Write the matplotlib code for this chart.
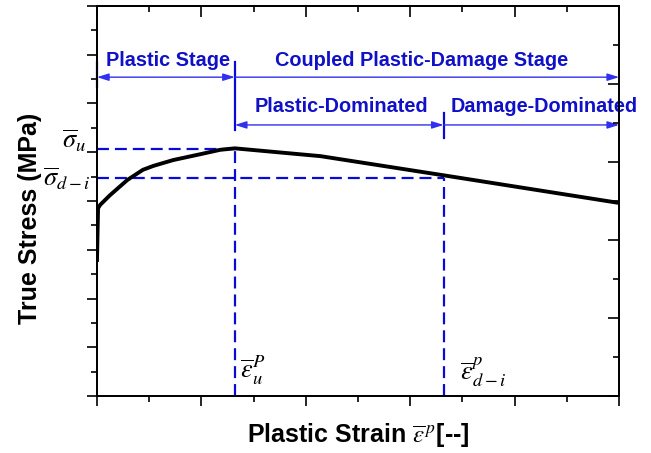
""" Schematic stress-strain curve with plastic and damage stages """
import matplotlib
matplotlib.use("Agg")
import matplotlib.pyplot as plt
from matplotlib.ticker import MultipleLocator, NullFormatter

# Curve (arbitrary units)
strain = [0.0, 0.01, 0.03, 0.125, 0.29, 0.44, 0.54, 0.73, 0.99, 1.18, 1.32, 2.14, 3.31, 5.0]
stress = [2.79, 3.85, 3.92, 4.12, 4.43, 4.64, 4.72, 4.84, 4.96, 5.05, 5.08, 4.92, 4.53, 3.96]

# Characteristic points
eps_u = 1.32
sig_u = 5.06
eps_di = 3.32
sig_di = 4.47

# Stage labels
stage_labels = ["Plastic Stage", "Coupled Plastic-Damage Stage"]
sub_labels = ["Plastic-Dominated", "Damage-Dominated"]

plt.rcParams["font.family"] = ["Liberation Sans", "DejaVu Sans"]
plt.rcParams["mathtext.fontset"] = "stix"
plt.rcParams["lines.scale_dashes"] = False

text_blue = "#1010C8"
line_blue = "#0A0AD8"
arrow_blue = "#3030EE"

fig = plt.figure(figsize=(6.51, 4.53), dpi=100)
ax = fig.add_axes([0.149, 0.1258, 0.802, 0.861])

x_max = 5.0
y_max = 8.0
ax.set_xlim(0, x_max)
ax.set_ylim(0, y_max)

# Main curve
ax.plot(strain, stress, color="black", lw=2.8, solid_joinstyle="round", zorder=4)

# Dashed guide lines
dash = (8.6, 4.3)
ax.plot([0, eps_u], [sig_u, sig_u], color=line_blue, lw=1.6, dashes=dash)
ax.plot([eps_u, eps_u], [0, sig_u], color=line_blue, lw=1.6, dashes=dash)
ax.plot([0, eps_di], [sig_di, sig_di], color=line_blue, lw=1.6, dashes=dash)
ax.plot([eps_di, eps_di], [0, sig_di], color=line_blue, lw=1.6, dashes=dash)

# Stage arrows
row1 = 6.54
row2 = 5.56
head = "head_length=0.7,head_width=0.22"
arrows = [
    (0.0, eps_u, row1, "<|-|>"),
    (eps_u, x_max, row1, "-|>"),
    (eps_u, eps_di, row2, "<|-|>"),
    (eps_di, x_max, row2, "-|>"),
]
for x0, x1, yy, style in arrows:
    ax.annotate("", xy=(x1, yy), xytext=(x0, yy),
                arrowprops=dict(arrowstyle=style + "," + head, color=arrow_blue,
                                lw=1.0, shrinkA=0, shrinkB=0),
                annotation_clip=False)

# Vertical separators of the stages
ax.plot([0, 0], [6.34, 6.85], color=line_blue, lw=1.6, clip_on=False)
ax.plot([eps_u, eps_u], [5.46, 6.85], color=line_blue, lw=1.6, clip_on=False)
ax.plot([eps_di, eps_di], [5.29, 5.80], color=line_blue, lw=1.6, clip_on=False)

# Stage texts
ax.text(0.68, 6.77, stage_labels[0], color=text_blue, fontsize=14.3,
        fontweight="bold", ha="center", va="baseline")
ax.text(3.11, 6.77, stage_labels[1], color=text_blue, fontsize=14.3,
        fontweight="bold", ha="center", va="baseline")
ax.text(2.34, 5.83, sub_labels[0], color=text_blue, fontsize=14.3,
        fontweight="bold", ha="center", va="baseline")
ax.text(4.28, 5.83, sub_labels[1], color=text_blue, fontsize=14.3,
        fontweight="bold", ha="center", va="baseline", clip_on=False)

# Symbols for the characteristic points
ax.text(-0.105, 5.08, r"$\overline{\sigma}_u$", fontsize=19, ha="right",
        va="baseline", clip_on=False)
ax.text(-0.06, 4.3, r"$\overline{\sigma}_{d-i}$", fontsize=19, ha="right",
        va="baseline", clip_on=False)
ax.text(1.37, 0.37, r"$\overline{\varepsilon}_u^P$", fontsize=19, ha="left",
        va="baseline")
ax.text(3.48, 0.33, r"$\overline{\varepsilon}_{d-i}^p$", fontsize=19, ha="left",
        va="baseline")

# Axis labels
ax.set_xlabel(r"Plastic Strain $\overline{\varepsilon}^{\,p}$[--]", fontsize=18,
              fontweight="bold")
ax.xaxis.set_label_coords(0.5, -0.065)
ax.set_ylabel("True Stress (MPa)", fontsize=18, fontweight="bold")
ax.yaxis.set_label_coords(-0.105, 0.456)

# Ticks: bottom/left outward, top/right inward, no labels
ax.xaxis.set_major_locator(MultipleLocator(1))
ax.xaxis.set_minor_locator(MultipleLocator(0.5))
ax.yaxis.set_major_locator(MultipleLocator(1))
ax.yaxis.set_minor_locator(MultipleLocator(0.5))
ax.xaxis.set_major_formatter(NullFormatter())
ax.yaxis.set_major_formatter(NullFormatter())
ax.tick_params(which="major", direction="out", length=7, width=1.2,
               top=False, right=False)
ax.tick_params(which="minor", direction="out", length=4, width=1.2,
               top=False, right=False)

top = ax.secondary_xaxis("top")
top.xaxis.set_major_locator(MultipleLocator(1))
top.xaxis.set_minor_locator(MultipleLocator(0.5))
top.xaxis.set_major_formatter(NullFormatter())
top.tick_params(which="major", direction="in", length=8, width=1.2)
top.tick_params(which="minor", direction="in", length=4, width=1.2)

right = ax.twinx()
right.set_ylim(0, 5)
right.yaxis.set_major_locator(MultipleLocator(1))
right.yaxis.set_minor_locator(MultipleLocator(0.5))
right.yaxis.set_major_formatter(NullFormatter())
right.tick_params(which="major", direction="in", length=8, width=1.2)
right.tick_params(which="minor", direction="in", length=4, width=1.2)

for a in (ax, right):
    for s in a.spines.values():
        s.set_linewidth(1.3)
for s in top.spines.values():
    s.set_linewidth(1.3)

fig.savefig("out.png", dpi=100)
